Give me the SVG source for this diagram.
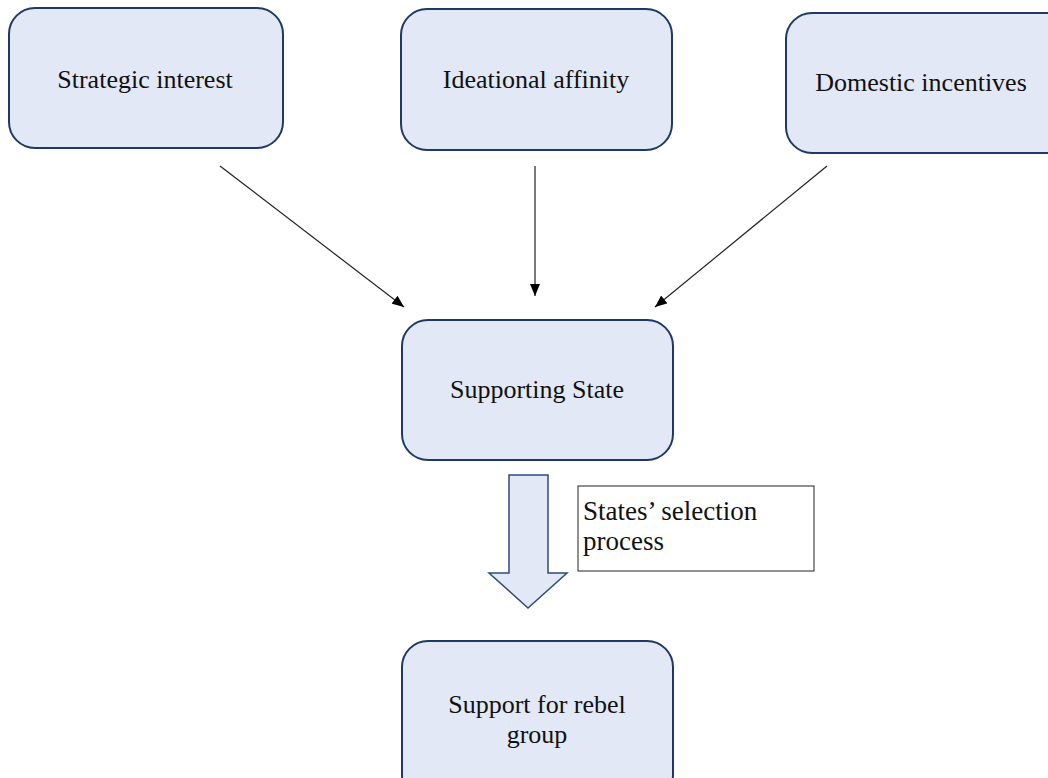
<svg xmlns="http://www.w3.org/2000/svg" width="1048" height="778" viewBox="0 0 1048 778">
<style>
.node{fill:#e2e8f5;stroke:#1f3864;stroke-width:2}
.t{font-family:"Liberation Serif","Times New Roman",serif;font-size:26px;fill:#111;text-anchor:middle}
.tl{font-family:"Liberation Serif","Times New Roman",serif;font-size:27px;fill:#111}
.ln{stroke:#222;stroke-width:1.2;fill:none;marker-end:url(#ah)}
</style>
<defs>
<marker id="ah" viewBox="0 0 12 10" refX="12" refY="5" markerWidth="12" markerHeight="10" markerUnits="userSpaceOnUse" orient="auto">
<path d="M0,0 L12,5 L0,10 z" fill="#000"/>
</marker>
</defs>
<rect width="1048" height="778" fill="#fff"/>
<g id="connectors">
<line class="ln" x1="220" y1="166" x2="404" y2="307"/>
<line class="ln" x1="535" y1="166" x2="535" y2="296"/>
<line class="ln" x1="827" y1="166" x2="655" y2="307"/>
<path d="M509,475 L548,475 L548,573 L567,573 L528,608 L489,573 L509,573 Z" fill="#e2e8f5" stroke="#2f4a7a" stroke-width="1.5"/>
</g>
<g id="n1"><rect class="node" x="9" y="8" width="274" height="140" rx="26"/><text class="t" x="145" y="88">Strategic interest</text></g>
<g id="n2"><rect class="node" x="401" y="9" width="271" height="141" rx="26"/><text class="t" x="536" y="88">Ideational affinity</text></g>
<g id="n3"><rect class="node" x="786" y="13" width="290" height="140" rx="26"/><text class="t" x="921" y="91">Domestic incentives</text></g>
<g id="n4"><rect class="node" x="402" y="320" width="271" height="140" rx="26"/><text class="t" x="537" y="398">Supporting State</text></g>
<g id="n5"><rect class="node" x="402" y="641" width="271" height="160" rx="26"/><text class="t" x="537" y="713">Support for rebel</text><text class="t" x="537" y="743">group</text></g>
<g id="label"><rect x="578" y="486" width="236" height="85" fill="#fff" stroke="#222" stroke-width="1"/><text class="tl" x="583" y="520">States’ selection</text><text class="tl" x="583" y="550">process</text></g>
</svg>
